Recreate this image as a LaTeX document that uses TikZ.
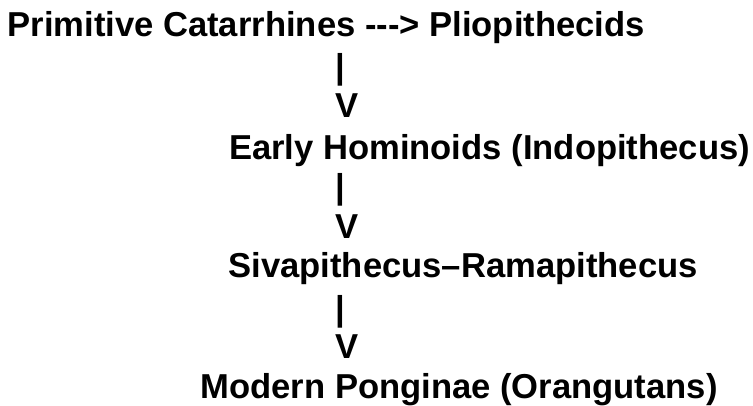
\documentclass[tikz,border=0pt]{standalone}
\usepackage{fontspec}
\setmainfont{Liberation Sans}[Ligatures=TeXOff]
\begin{document}
\begin{tikzpicture}[x=1pt,y=1pt,
  lbl/.style={anchor=base west,inner sep=0pt,outer sep=0pt,
    font=\fontsize{34.6}{40}\selectfont\bfseries,text=black}]
\useasboundingbox[fill=white] (0,0) rectangle (753,405);
\node[lbl] (l1) at (7.5,405-37) {Primitive Catarrhines -{}-{}-> Pliopithecids};
\node[lbl] (b1) at (335.2,405-79) {|};
\node[lbl] (v1) at (335.5,405-118) {V};
\node[lbl] (l2) at (229,405-160) {Early Hominoids (Indopithecus)};
\node[lbl] (b2) at (335.2,405-199) {|};
\node[lbl] (v2) at (335.5,405-238) {V};
\node[lbl] (l3) at (228.5,405-277) {Sivapithecus–Ramapithecus};
\node[lbl] (b3) at (335.2,405-320) {|};
\node[lbl] (v3) at (335.5,405-358) {V};
\node[lbl] (l4) at (200.5,405-398) {Modern Ponginae (Orangutans)};
\end{tikzpicture}
\end{document}
